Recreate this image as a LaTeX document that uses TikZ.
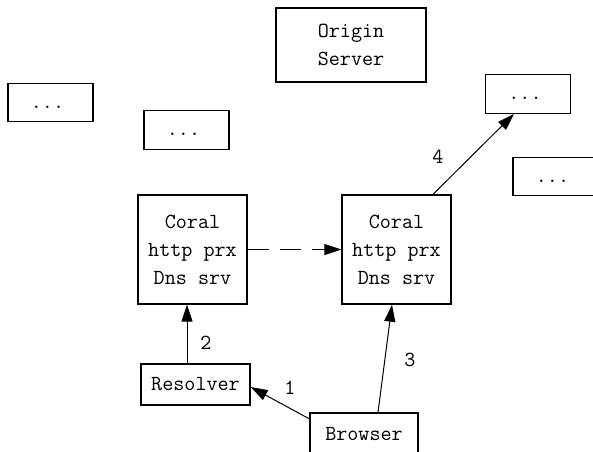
\documentclass[tikz,border=0pt]{standalone}
\usepackage{fontspec}
\usetikzlibrary{arrows.meta}
\begin{document}
\begin{tikzpicture}[x=1pt,y=-1pt,
  every node/.style={font=\fontsize{21.5pt}{28pt}\selectfont\ttfamily},
  box/.style={draw,line width=1.3pt,inner sep=0pt,align=center},
  dotbox/.style={box,minimum width=85pt,minimum height=38.5pt,text height=11pt,text depth=0pt},
  coral/.style={box,minimum width=109pt,minimum height=109pt},
  small/.style={box,minimum width=109pt,minimum height=41pt},
  link/.style={line width=1pt,-{Triangle[length=17pt,width=11pt]}},
  num/.style={inner sep=0pt}
]
\useasboundingbox (0,0) rectangle (593,451);

% outlying peer boxes
\node[dotbox] (d1) at (50.5,102.5) {...\kern6pt};
\node[dotbox] (d2) at (186.5,130) {...\kern6pt};
\node[dotbox] (d3) at (528,94) {...\kern6pt};
\node[dotbox] (d4) at (555.5,176.5) {...\kern6pt};

% origin server
\node[box,minimum width=150pt,minimum height=74pt] (origin) at (351,45) {Origin\\Server};

% the two Coral nodes
\node[coral] (cl) at (192.5,249.5) {Coral\\http prx\\Dns srv};
\node[coral] (cr) at (396.5,249.5) {Coral\\http prx\\Dns srv};

% client side
\node[small] (res) at (195.5,384.5) {Resolver};
\node[small,minimum width=108pt] (br) at (364,433.5) {Browser};

% request flow
\draw[link] ([yshift=-6.5pt]br.north west) -- ([yshift=-2.5pt]res.east);
\draw[link] ([xshift=-8.5pt]res.north) -- ([xshift=-5.5pt]cl.south);
\draw[link] ([xshift=14pt]br.north) -- ([xshift=-4.5pt]cr.south);
\draw[link] ([xshift=36.5pt]cr.north) -- ([xshift=-14pt]d3.south);
\draw[link,dash pattern=on 21pt off 11pt] (cl.east) -- (cr.west);

% step numbers
\node[num] (n1) at (290,388) {1};
\node[num] (n2) at (206,343) {2};
\node[num] (n3) at (410,360) {3};
\node[num] (n4) at (438,157) {4};
\end{tikzpicture}
\end{document}
